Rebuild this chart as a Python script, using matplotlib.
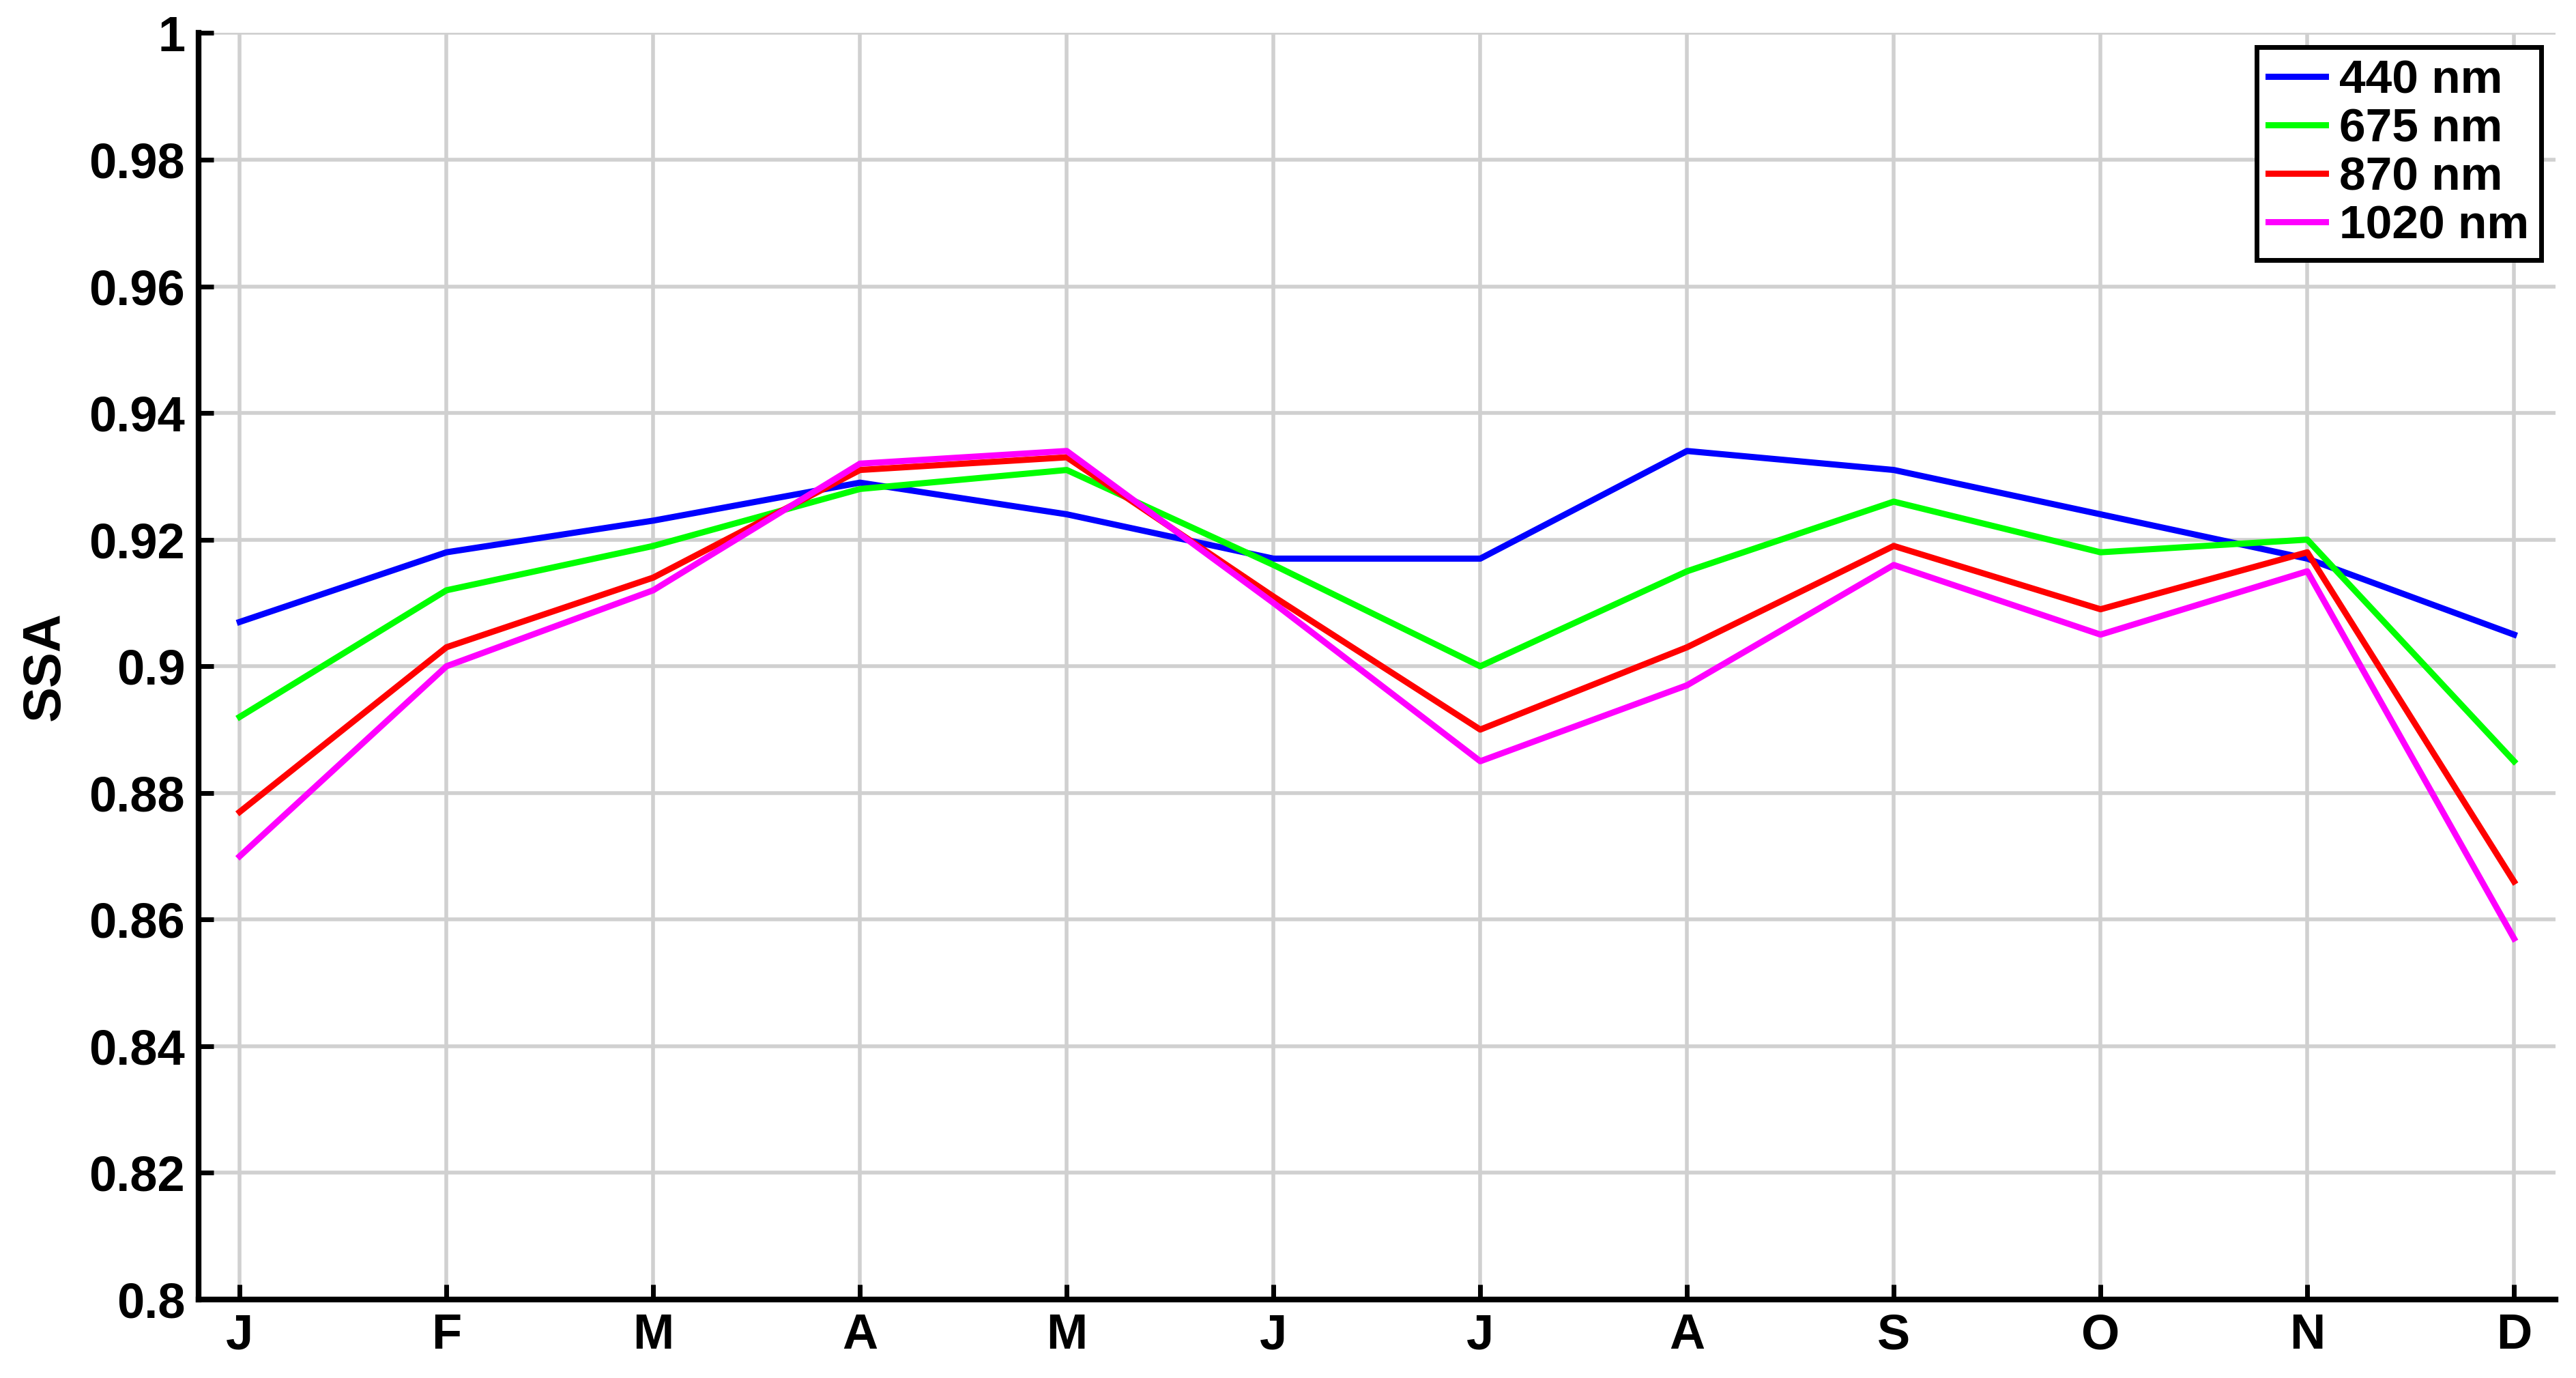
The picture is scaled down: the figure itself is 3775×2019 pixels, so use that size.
import matplotlib
matplotlib.use("Agg")
import matplotlib.pyplot as plt

months = ["J", "F", "M", "A", "M", "J", "J", "A", "S", "O", "N", "D"]
ssa_440 = [0.907, 0.918, 0.923, 0.929, 0.924, 0.917, 0.917, 0.934, 0.931, 0.924, 0.917, 0.905]
ssa_675 = [0.892, 0.912, 0.919, 0.928, 0.931, 0.916, 0.900, 0.915, 0.926, 0.918, 0.920, 0.885]
ssa_870 = [0.877, 0.903, 0.914, 0.931, 0.933, 0.911, 0.890, 0.903, 0.919, 0.909, 0.918, 0.866]
ssa_1020 = [0.870, 0.900, 0.912, 0.932, 0.934, 0.910, 0.885, 0.897, 0.916, 0.905, 0.915, 0.857]

plt.rcParams['font.family'] = ['Liberation Sans', 'DejaVu Sans']
plt.rcParams['font.weight'] = 'bold'

fig = plt.figure(figsize=(37.75, 20.19), dpi=100)
ax = fig.add_axes([0.077, 0.057, 0.915, 0.919])
x = range(len(months))
lw = 6.5
ax.plot(x, ssa_440, color="#0000ff", lw=lw, label="440 nm")
ax.plot(x, ssa_675, color="#00ff00", lw=lw, label="675 nm")
ax.plot(x, ssa_870, color="#ff0000", lw=lw, label="870 nm")
ax.plot(x, ssa_1020, color="#ff00ff", lw=lw, label="1020 nm")

ax.set_xlim(-0.2, 11.2)
ax.set_ylim(0.8, 1.0)
ax.set_xticks(list(x))
ax.set_xticklabels(months)
ax.set_yticks([0.8 + 0.02 * i for i in range(11)])
ax.set_yticklabels(["0.8", "0.82", "0.84", "0.86", "0.88", "0.9", "0.92", "0.94", "0.96", "0.98", "1"])
ax.tick_params(labelsize=52, width=5, length=16, direction="in", pad=14)
ax.grid(True, color="#d0d0d0", lw=4)
ax.set_ylabel("SSA", fontsize=56, fontweight="bold", labelpad=20)
for side in ["top", "right"]:
    ax.spines[side].set_visible(False)
for side in ["left", "bottom"]:
    ax.spines[side].set_linewidth(6)

leg = ax.legend(loc="upper right", fontsize=50, frameon=True, fancybox=False,
                handlelength=1.2, handletextpad=0.3, borderpad=0.25, labelspacing=0.1,
                borderaxespad=0.3)
leg.get_frame().set_edgecolor("black")
leg.get_frame().set_linewidth(5)
leg.get_frame().set_alpha(1)

fig.savefig("out.png", dpi=100, facecolor="white")
